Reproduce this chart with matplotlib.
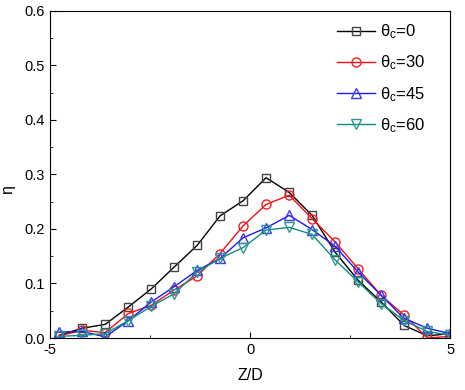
import matplotlib
matplotlib.use("Agg")
import matplotlib.pyplot as plt
from matplotlib.ticker import MultipleLocator

plt.rcParams['font.family'] = ['Liberation Sans', 'DejaVu Sans']
plt.rcParams['mathtext.fontset'] = 'custom'
plt.rcParams['mathtext.rm'] = 'Liberation Sans'
plt.rcParams['mathtext.it'] = 'Liberation Sans'

z = [-4.77, -4.19, -3.62, -3.04, -2.47, -1.90, -1.32, -0.75, -0.17,
     0.40, 0.98, 1.55, 2.13, 2.70, 3.28, 3.85, 4.43, 5.00]

eta_0 = [0.005, 0.018, 0.025, 0.057, 0.090, 0.130, 0.170, 0.224, 0.252,
         0.294, 0.267, 0.225, 0.157, 0.106, 0.066, 0.023, 0.004, 0.008]
eta_30 = [0.004, 0.014, 0.010, 0.045, 0.060, 0.088, 0.114, 0.155, 0.206,
          0.245, 0.262, 0.219, 0.176, 0.127, 0.078, 0.042, 0.000, 0.003]
eta_45 = [0.011, 0.012, 0.002, 0.032, 0.066, 0.094, 0.124, 0.146, 0.184,
          0.202, 0.225, 0.199, 0.168, 0.121, 0.078, 0.036, 0.018, 0.008]
eta_60 = [0.003, 0.005, 0.008, 0.032, 0.058, 0.081, 0.121, 0.146, 0.166,
          0.198, 0.203, 0.190, 0.143, 0.103, 0.063, 0.032, 0.012, 0.005]

labels = [r'$\theta_c$=0', r'$\theta_c$=30', r'$\theta_c$=45', r'$\theta_c$=60']
colors = ['black', '#ee1111', '#1a1aee', '#138a84']
mecs = ['#444444', '#ee2222', '#3a3aee', '#2a9a94']
markers = ['s', 'o', '^', 'v']
msizes = [6, 6.5, 7.5, 7.5]

fig = plt.figure(figsize=(4.65, 3.9), dpi=100)
ax = fig.add_axes([0.1075, 0.1333, 0.8605, 0.8387])

for y, lab, c, mec, m, ms in zip([eta_0, eta_30, eta_45, eta_60], labels, colors, mecs, markers, msizes):
    ax.plot(z, y, color=c, lw=1.0, marker=m, markersize=ms,
            markerfacecolor='none', markeredgecolor=mec, markeredgewidth=1.0,
            label=lab)

ax.set_xlim(-5, 5)
ax.set_ylim(0, 0.6)
ax.xaxis.set_major_locator(MultipleLocator(5))
ax.xaxis.set_minor_locator(MultipleLocator(2.5))
ax.yaxis.set_major_locator(MultipleLocator(0.1))
ax.yaxis.set_minor_locator(MultipleLocator(0.05))
ax.tick_params(which='both', direction='in', labelsize=10.5)
ax.tick_params(which='major', length=4)
ax.tick_params(which='minor', length=2.5)
ax.set_yticks([0, 0.1, 0.2, 0.3, 0.4, 0.5, 0.6])
ax.set_yticklabels(['0.0', '0.1', '0.2', '0.3', '0.4', '0.5', '0.6'])
ax.set_xticks([-5, 0, 5])
ax.set_xticklabels(['-5', '0', '5'])

ax.set_xlabel('Z/D', fontsize=11.5, labelpad=8)
ax.set_ylabel('η', fontsize=11.5)
ax.yaxis.set_label_coords(-0.088, 0.455)

ax.legend(loc='upper right', frameon=False, fontsize=12, handlelength=2.3,
          handletextpad=0.3, labelspacing=0.75, borderaxespad=0.0,
          bbox_to_anchor=(0.955, 0.985))

fig.savefig('out.png', dpi=100)
